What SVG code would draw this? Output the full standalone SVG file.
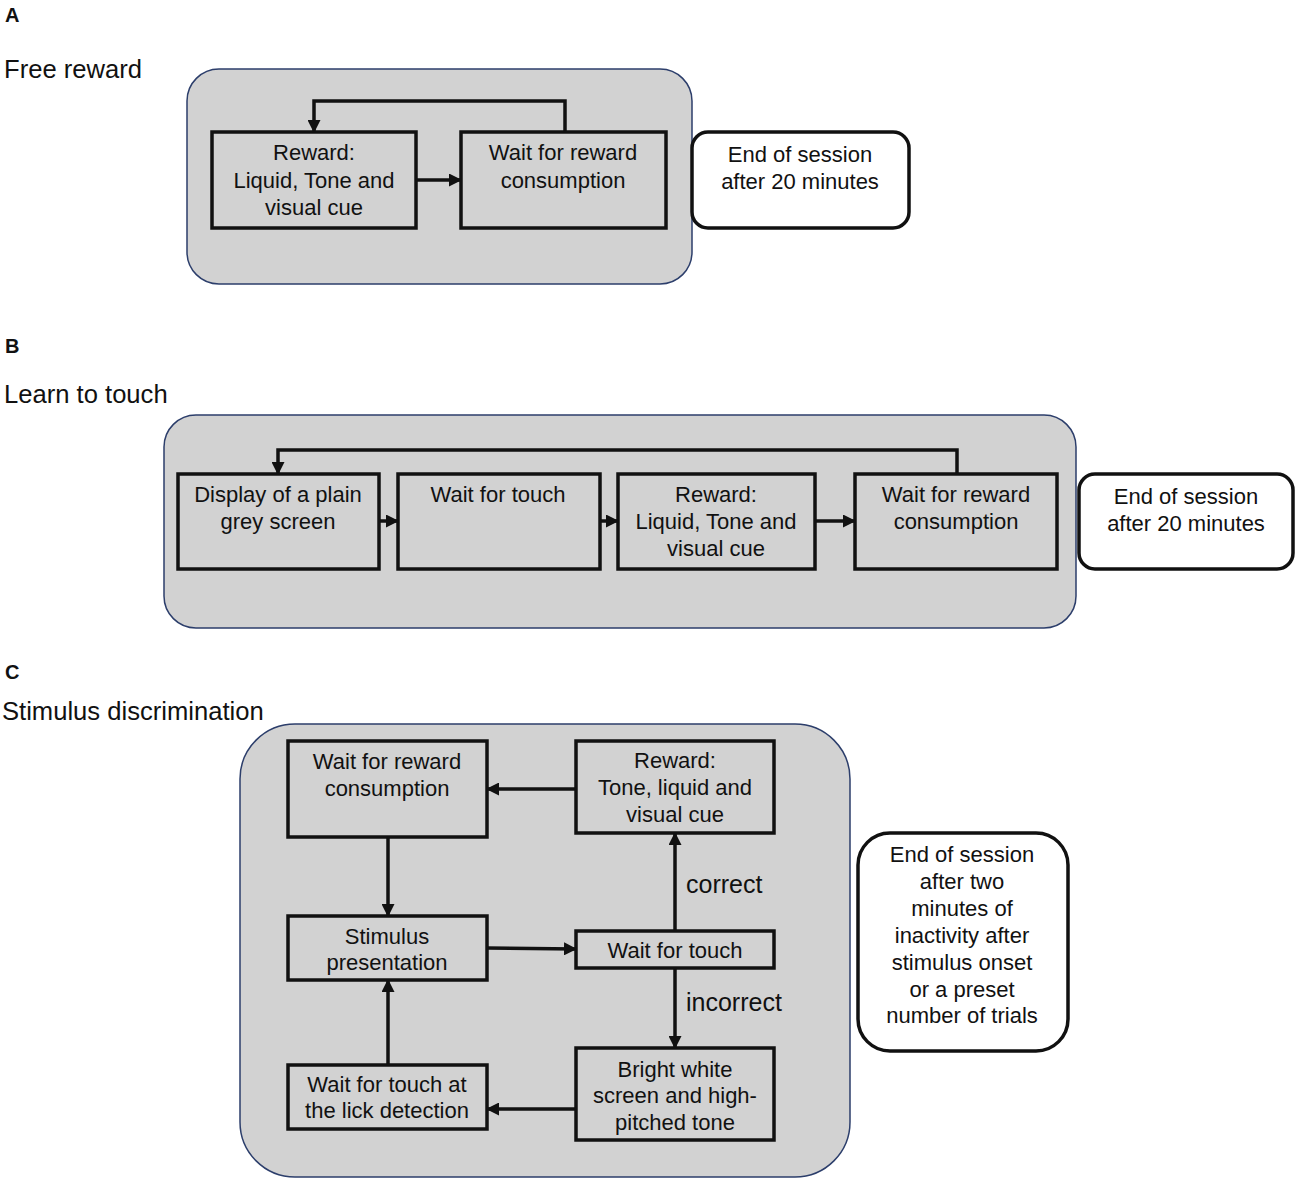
<svg xmlns="http://www.w3.org/2000/svg" width="1300" height="1185" viewBox="0 0 1300 1185">
<style>
text{font-family:"Liberation Sans",Arial,sans-serif;fill:#111}
.t{font-size:22px;text-anchor:middle}
.h{font-size:25.6px}
.l{font-size:20px;font-weight:bold}
.lab{font-size:25px}
.panel{fill:#d2d2d2;stroke:#2c3e6b;stroke-width:1.5}
.box{fill:#d2d2d2;stroke:#111;stroke-width:3.5}
.end{fill:#fff;stroke:#111;stroke-width:3.5}
.c{fill:none;stroke:#111;stroke-width:3.5}
</style>
<defs>
<marker id="ah" markerUnits="userSpaceOnUse" markerWidth="13" markerHeight="13" refX="12" refY="6.5" orient="auto">
<path d="M0,0 L13,6.5 L0,13 z" fill="#111"/>
</marker>
</defs>
<rect width="1300" height="1185" fill="#fff"/>
<text class="l" x="5" y="22">A</text>
<text class="h" x="4" y="78">Free reward</text>
<text class="l" x="5" y="353">B</text>
<text class="h" x="4" y="403">Learn to touch</text>
<text class="l" x="5" y="679">C</text>
<text class="h" x="2" y="720">Stimulus discrimination</text>

<rect class="panel" x="187" y="69" width="505" height="215" rx="32"/>
<rect class="panel" x="164" y="415" width="912" height="213" rx="32"/>
<rect class="panel" x="240" y="724" width="610" height="453" rx="55"/>

<g id="connectors">
<path class="c" d="M416,180 L461,180" marker-end="url(#ah)"/>
<path class="c" d="M565,132 L565,101 L314,101 L314,132" marker-end="url(#ah)"/>
<path class="c" d="M379,521 L398,521" marker-end="url(#ah)"/>
<path class="c" d="M600,521 L618,521" marker-end="url(#ah)"/>
<path class="c" d="M815,521 L855,521" marker-end="url(#ah)"/>
<path class="c" d="M957,474 L957,450 L278,450 L278,474" marker-end="url(#ah)"/>
<path class="c" d="M576,789 L487,789" marker-end="url(#ah)"/>
<path class="c" d="M388,837 L388,916" marker-end="url(#ah)"/>
<path class="c" d="M487,948 L576,949" marker-end="url(#ah)"/>
<path class="c" d="M675,931 L675,833" marker-end="url(#ah)"/>
<path class="c" d="M675,968 L675,1048" marker-end="url(#ah)"/>
<path class="c" d="M576,1109 L487,1109" marker-end="url(#ah)"/>
<path class="c" d="M388,1065 L388,980" marker-end="url(#ah)"/>
<text class="lab" x="686" y="893">correct</text>
<text class="lab" x="686" y="1011">incorrect</text>
</g>

<g id="a-reward"><rect class="box" x="212" y="132" width="204" height="96"/>
<text class="t" x="314" y="160">Reward:</text><text class="t" x="314" y="188">Liquid, Tone and</text><text class="t" x="314" y="215">visual cue</text></g>
<g id="a-wait"><rect class="box" x="461" y="132" width="205" height="96"/>
<text class="t" x="563" y="160">Wait for reward</text><text class="t" x="563" y="188">consumption</text></g>
<g id="a-end"><rect class="end" x="692" y="132" width="217" height="96" rx="16"/>
<text class="t" x="800" y="162">End of session</text><text class="t" x="800" y="189">after 20 minutes</text></g>

<g id="b-display"><rect class="box" x="178" y="474" width="201" height="95"/>
<text class="t" x="278" y="502">Display of a plain</text><text class="t" x="278" y="529">grey screen</text></g>
<g id="b-touch"><rect class="box" x="398" y="474" width="202" height="95"/>
<text class="t" x="498" y="502">Wait for touch</text></g>
<g id="b-reward"><rect class="box" x="618" y="474" width="197" height="95"/>
<text class="t" x="716" y="502">Reward:</text><text class="t" x="716" y="529">Liquid, Tone and</text><text class="t" x="716" y="556">visual cue</text></g>
<g id="b-wait"><rect class="box" x="855" y="474" width="202" height="95"/>
<text class="t" x="956" y="502">Wait for reward</text><text class="t" x="956" y="529">consumption</text></g>
<g id="b-end"><rect class="end" x="1079" y="474" width="214" height="95" rx="16"/>
<text class="t" x="1186" y="504">End of session</text><text class="t" x="1186" y="531">after 20 minutes</text></g>

<g id="c-wait-reward"><rect class="box" x="288" y="741" width="199" height="96"/>
<text class="t" x="387" y="769">Wait for reward</text><text class="t" x="387" y="796">consumption</text></g>
<g id="c-reward"><rect class="box" x="576" y="741" width="198" height="92"/>
<text class="t" x="675" y="768">Reward:</text><text class="t" x="675" y="795">Tone, liquid and</text><text class="t" x="675" y="822">visual cue</text></g>
<g id="c-stimulus"><rect class="box" x="288" y="916" width="199" height="64"/>
<text class="t" x="387" y="944">Stimulus</text><text class="t" x="387" y="970">presentation</text></g>
<g id="c-touch"><rect class="box" x="576" y="931" width="198" height="37"/>
<text class="t" x="675" y="958">Wait for touch</text></g>
<g id="c-bright"><rect class="box" x="576" y="1048" width="198" height="92"/>
<text class="t" x="675" y="1077">Bright white</text><text class="t" x="675" y="1103">screen and high-</text><text class="t" x="675" y="1130">pitched tone</text></g>
<g id="c-lick"><rect class="box" x="288" y="1065" width="199" height="64"/>
<text class="t" x="387" y="1092">Wait for touch at</text><text class="t" x="387" y="1118">the lick detection</text></g>
<g id="c-end"><rect class="end" x="858" y="833" width="210" height="218" rx="32"/>
<text class="t" x="962" y="862">End of session</text><text class="t" x="962" y="889">after two</text><text class="t" x="962" y="916">minutes of</text><text class="t" x="962" y="943">inactivity after</text><text class="t" x="962" y="970">stimulus onset</text><text class="t" x="962" y="997">or a preset</text><text class="t" x="962" y="1023">number of trials</text></g>
</svg>
